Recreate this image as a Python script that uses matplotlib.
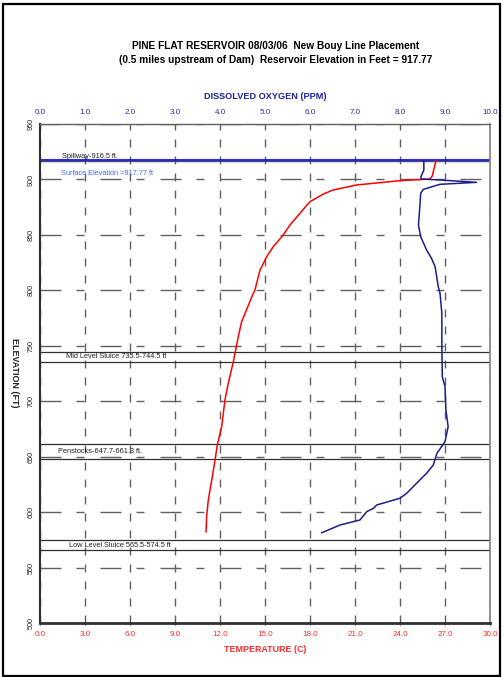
import matplotlib
matplotlib.use("Agg")
import matplotlib.pyplot as plt
from matplotlib.patches import Rectangle

plt.rcParams['font.family'] = ['Liberation Sans', 'DejaVu Sans']
plt.rcParams['lines.scale_dashes'] = False

# ---- data ----
temp_c = [26.4, 26.15, 26.0, 24.0, 21.1, 19.55, 18.9, 18.0, 17.33, 16.67, 16.22,
          15.55, 15.11, 14.67, 14.44, 14.33, 14.22, 13.44, 13.22, 12.89, 12.55,
          12.33, 12.11, 11.82, 11.67, 11.45, 11.22, 11.11, 11.07]
temp_elev = [917.0, 903.1, 900.4, 898.9, 895.0, 890.5, 886.9, 880.0, 869.5, 859.0, 850.0,
             839.3, 830.3, 818.3, 806.3, 800.3, 797.3, 771.7, 758.2, 735.6, 716.2,
             701.1, 677.0, 660.5, 647.0, 629.0, 610.9, 595.9, 582.3]

do_ppm = [8.53, 8.53, 8.46, 8.48, 8.89, 9.70, 8.89, 8.52, 8.46, 8.44, 8.41, 8.46,
          8.59, 8.70, 8.78, 8.85, 8.89, 8.93, 8.93, 8.94, 9.00, 9.02, 9.07, 9.00,
          8.82, 8.74, 8.59, 8.44, 8.15, 8.00, 7.48, 7.41, 7.26, 7.11, 6.67, 6.26]
do_elev = [916.9, 908.5, 901.9, 900.4, 899.5, 897.4, 895.6, 891.1, 887.5, 875.4, 858.9, 848.4,
           836.4, 828.9, 821.3, 803.3, 797.3, 779.3, 749.2, 722.1, 713.1, 692.1, 677.0, 663.5,
           653.0, 642.5, 635.0, 629.0, 617.0, 612.5, 606.4, 603.4, 600.4, 592.9, 588.4, 581.4]

temp_ticks = [0.0, 3.0, 6.0, 9.0, 12.0, 15.0, 18.0, 21.0, 24.0, 27.0, 30.0]
do_ticks = [0.0, 1.0, 2.0, 3.0, 4.0, 5.0, 6.0, 7.0, 8.0, 9.0, 10.0]
elev_ticks = [500, 550, 600, 650, 700, 750, 800, 850, 900, 950]

spillway = 916.5
surface = 917.77
mid_sluice = [735.5, 744.5]
penstocks = [647.7, 661.3]
low_sluice = [565.5, 574.5]

title1 = "PINE FLAT RESERVOIR 08/03/06  New Bouy Line Placement"
title2 = "(0.5 miles upstream of Dam)  Reservoir Elevation in Feet = 917.77"

# ---- figure ----
W, H = 503, 677
fig = plt.figure(figsize=(W / 100, H / 100), dpi=100)
fig.patch.set_facecolor('white')
fig.add_artist(Rectangle((3 / W, 1 - 676 / H), 497 / W, 672 / H, transform=fig.transFigure,
                         fill=False, edgecolor='black', lw=1.6))

ax = fig.add_axes([40 / W, 1 - 623 / H, 450 / W, 499 / H])
ax.set_xlim(0, 30)
ax.set_ylim(500, 950)

grid_col = '#606060'
px = 0.72
ax.set_xticks(temp_ticks)
ax.set_yticks(elev_ticks)
ax.grid(axis='y', color=grid_col, lw=1.0, linestyle=(0, (21 * px, 15 * px, 8 * px, 16 * px)))
ax.grid(axis='x', color=grid_col, lw=1.0, linestyle=(0, (8 * px, 9 * px)))
ax.set_axisbelow(True)

# structure lines
ax.axhline(spillway, color='#505050', lw=1.0)
ax.axhline(surface, color='#0000ff', lw=1.2)
for v in mid_sluice + penstocks + low_sluice:
    ax.axhline(v, color='#303030', lw=0.9)

ax.plot(temp_c, temp_elev, color='#ff0000', lw=1.1, zorder=5)

fs_ann = 5.3
ax.text(1.47, 920.6, "Spillway-916.5 ft.", fontsize=fs_ann, color='#202020', va='center')
ax.text(1.4, 905.8, "Surface Elevation =917.77 ft", fontsize=fs_ann, color='#4466ff', va='center')
ax.text(1.73, 740.0, "Mid Level Sluice 735.5-744.5 ft", fontsize=fs_ann, color='#202020', va='center')
ax.text(1.2, 654.5, "Penstocks-647.7-661.3 ft.", fontsize=fs_ann, color='#202020', va='center')
ax.text(1.93, 570.0, "Low Level Sluice 565.5-574.5 ft", fontsize=fs_ann, color='#202020', va='center')

red = '#ff2a2a'
navy = '#2a2aa8'
ax.set_xticklabels([f"{t:.1f}" for t in temp_ticks], fontsize=5.8, color=red)
ax.set_yticklabels([str(e) for e in elev_ticks], fontsize=5.2, color='#202020', rotation=90,
                   va='center')
ax.tick_params(axis='x', length=3, direction='inout', color='#303030', pad=4)
ax.tick_params(axis='y', length=0, pad=4)

ax.spines['left'].set_color('#303030'); ax.spines['left'].set_linewidth(1.5)
ax.spines['bottom'].set_color('#303030'); ax.spines['bottom'].set_linewidth(2.0)
ax.spines['right'].set_color('#808080'); ax.spines['right'].set_linewidth(1.2)
ax.spines['top'].set_color('#606060'); ax.spines['top'].set_linewidth(1.0)

ax.set_xlabel("TEMPERATURE (C)", fontsize=6.4, fontweight='bold', color=red, labelpad=5)

ax2 = ax.twiny()
ax2.set_xlim(0, 10)
ax2.plot(do_ppm, do_elev, color='#1c1c8c', lw=1.1, zorder=5)
ax2.set_xticks(do_ticks)
ax2.set_xticklabels([f"{t:.1f}" for t in do_ticks], fontsize=5.8, color=navy)
ax2.tick_params(axis='x', length=0, pad=6)
for s in ax2.spines.values():
    s.set_visible(False)
ax2.set_xlabel("DISSOLVED OXYGEN (PPM)", fontsize=6.6, fontweight='bold', color='#2020a0',
               labelpad=7)

fig.text(14 / W, 1 - 373 / H, "ELEVATION (FT)", fontsize=6.4, fontweight='bold',
         rotation=-90, ha='center', va='center', color='#202020')
fig.text(276 / W, 1 - 46 / H, title1, fontsize=7.3, fontweight='bold', ha='center', va='center')
fig.text(276 / W, 1 - 60 / H, title2, fontsize=7.3, fontweight='bold', ha='center', va='center')

fig.savefig("out.png", dpi=100, facecolor='white')
